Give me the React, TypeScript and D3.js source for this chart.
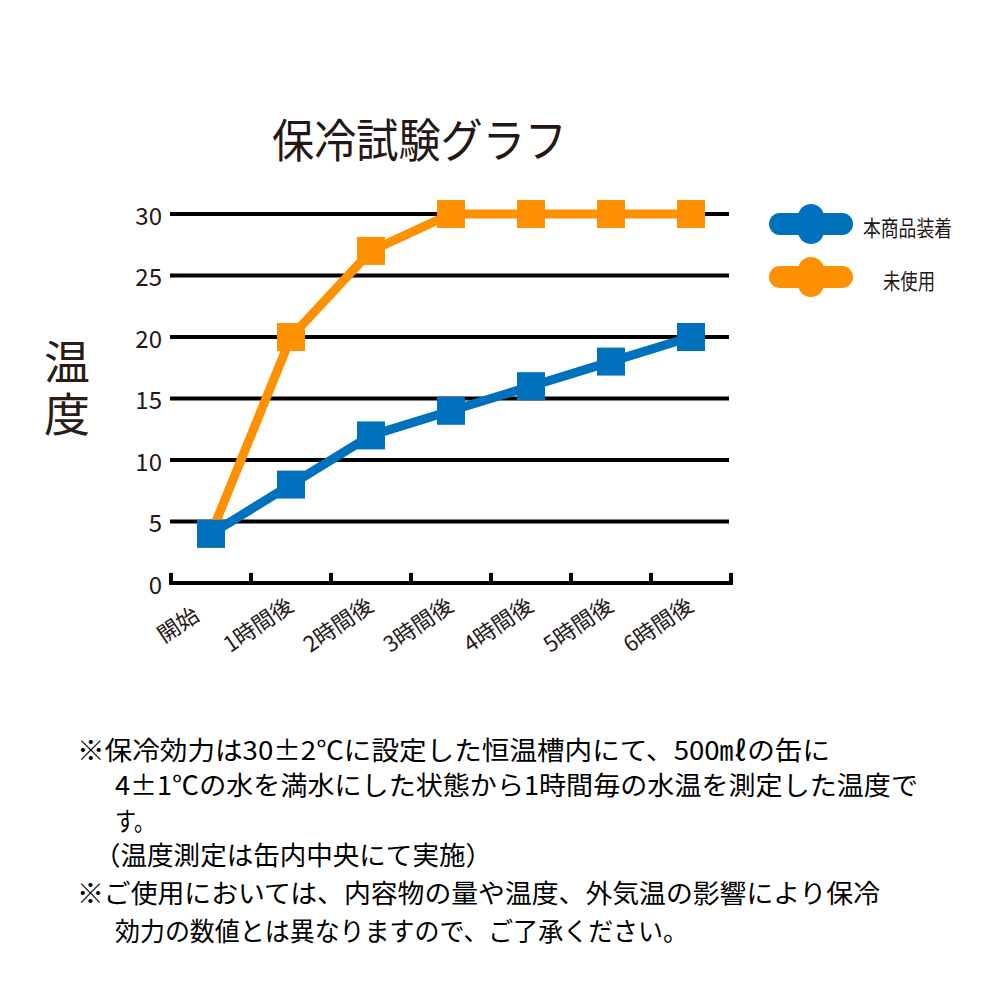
import * as d3 from 'd3';

// ---- data ----
const categories = ['開始', '1時間後', '2時間後', '3時間後', '4時間後', '5時間後', '6時間後'];
const seriesNames = ['本商品装着', '未使用'];
const seriesColors = ['#0071bc', '#ff9000'];
const withProduct = [4, 8, 12, 14, 16, 18, 20];
const withoutProduct = [4, 20, 27, 30, 30, 30, 30];
const yTicks = [0, 5, 10, 15, 20, 25, 30];
const title = '保冷試験グラフ';
const yTitle = '温度';
const notes = [
  '※保冷効力は30±2℃に設定した恒温槽内にて、500㎖の缶に',
  '4±1℃の水を満水にした状態から1時間毎の水温を測定した温度で',
  'す。',
  '（温度測定は缶内中央にて実施）',
  '※ご使用においては、内容物の量や温度、外気温の影響により保冷',
  '効力の数値とは異なりますので、ご了承ください。',
];

const FONT = '"Noto Sans CJK JP", "Noto Sans", sans-serif';
const INK = '#231815';

export default function App() {
  const x = d3.scaleBand<string>().domain(categories).range([171, 731]);
  const y = d3.scaleLinear().domain([0, 30]).range([583, 214]);
  const cx = (c: string) => (x(c) ?? 0) + x.bandwidth() / 2;

  const line = d3
    .line<number>()
    .x((_, i) => cx(categories[i]))
    .y((d) => y(d));

  // draw orange (unused) first so the blue sits on top
  const drawOrder = [
    { values: withoutProduct, color: seriesColors[1] },
    { values: withProduct, color: seriesColors[0] },
  ];

  const boundaries = [...categories.map((c) => x(c) ?? 0), x.range()[1]];
  const marker = 28;

  // note layout: [left x, center y, target width]
  const noteLayout: [number, number, number | null][] = [
    [77, 748, 753],
    [115, 783, 803],
    [115, 819, 40],
    [94, 853, 398],
    [77, 891, 803],
    [115, 929, 573],
  ];

  return (
    <svg
      width={1000}
      height={1000}
      style={{ position: 'absolute', left: 0, top: 0, background: '#fff' }}
      fontFamily={FONT}
    >
      {/* title */}
      <text
        x={272}
        y={137}
        dominantBaseline="central"
        fontSize={46}
        fill={INK}
        textLength={295}
        lengthAdjust="spacingAndGlyphs"
      >
        {title}
      </text>

      {/* y title, set vertically */}
      <text
        x={67}
        y={339}
        style={{ writingMode: 'vertical-rl' }}
        fontSize={46}
        letterSpacing={6}
        fill="#2a1c16"
      >
        {yTitle}
      </text>

      {/* gridlines + y labels */}
      {yTicks.map((t) => (
        <g key={t}>
          {t > 0 && (
            <line x1={170} x2={729} y1={y(t)} y2={y(t)} stroke="#000" strokeWidth={4} />
          )}
          <text
            x={162}
            y={y(t)}
            textAnchor="end"
            dominantBaseline="central"
            fontSize={24}
            fill={INK}
          >
            {t}
          </text>
        </g>
      ))}

      {/* x axis */}
      <line x1={boundaries[0]} x2={boundaries[boundaries.length - 1]} y1={y(0)} y2={y(0)} stroke="#000" strokeWidth={4} />
      {boundaries.map((b, i) => (
        <line key={i} x1={b} x2={b} y1={y(0) + 2} y2={y(0) - 10} stroke="#000" strokeWidth={4} />
      ))}
      {categories.map((c) => {
        const lx = cx(c) - 34;
        const ly = 623;
        return (
          <text
            key={c}
            x={lx}
            y={ly}
            transform={`rotate(-34, ${lx}, ${ly})`}
            textAnchor="middle"
            dominantBaseline="central"
            fontSize={22}
            fill={INK}
          >
            {c}
          </text>
        );
      })}

      {/* series */}
      {drawOrder.map((s, si) => (
        <g key={si}>
          <path d={line(s.values) ?? undefined} fill="none" stroke={s.color} strokeWidth={9} strokeLinejoin="miter" />
          {s.values.map((v, i) => (
            <rect
              key={i}
              x={cx(categories[i]) - marker / 2}
              y={y(v) - marker / 2}
              width={marker}
              height={marker}
              fill={s.color}
            />
          ))}
        </g>
      ))}

      {/* legend */}
      {seriesNames.map((name, i) => {
        const ly = 224 + i * 53;
        return (
          <g key={name}>
            <rect x={769} y={ly - 11} width={84} height={22} rx={11} fill={seriesColors[i]} />
            <rect x={798} y={ly - 20} width={26} height={40} rx={13} fill={seriesColors[i]} />
            <text
              x={i === 0 ? 863 : 883}
              y={ly + 2}
              dominantBaseline="central"
              fontSize={22}
              fill={INK}
              textLength={i === 0 ? 89 : 52}
              lengthAdjust="spacingAndGlyphs"
            >
              {name}
            </text>
          </g>
        );
      })}

      {/* notes: one paragraph, one line per tspan */}
      <text fontSize={26} fill="#000" dominantBaseline="central">
        {notes.map((n, i) => {
          const [nx, ny, w] = noteLayout[i];
          return (
            <tspan
              key={i}
              x={nx}
              y={ny}
              textLength={w ?? undefined}
              lengthAdjust={w ? 'spacingAndGlyphs' : undefined}
            >
              {n}
            </tspan>
          );
        })}
      </text>
    </svg>
  );
}
